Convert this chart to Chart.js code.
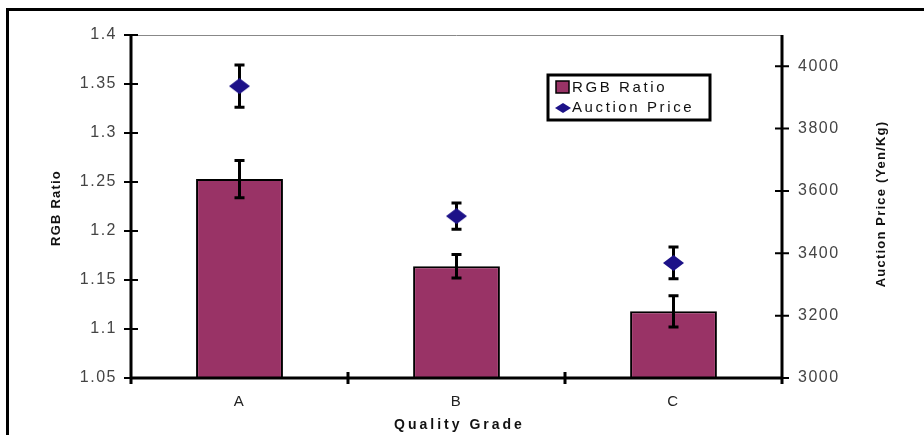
<!DOCTYPE html>
<html>
<head>
<meta charset="utf-8">
<script src="https://cdn.jsdelivr.net/npm/chart.js@4/dist/chart.umd.min.js"></script>
<style>
  html, body { margin: 0; padding: 0; background: #fff; overflow: hidden; }
  #frame { position: absolute; left: 6px; top: 8px; width: 1000px; height: 1000px; border: 3px solid #000; }
  #wrap { position: absolute; left: 0; top: 0; width: 924px; height: 435px; }
</style>
</head>
<body>
<div id="frame"></div>
<div id="wrap"><canvas id="chart"></canvas></div>
<script>
// datos
const grades = ['A', 'B', 'C'];
const rgbRatio = [1.253, 1.164, 1.118];
const rgbErr = [0.019, 0.012, 0.016];
const auctionPrice = [3936, 3519, 3369];
const priceErr = [68, 42, 51];
const ratioTicks = { min: 1.05, max: 1.4, step: 0.05 };
const priceTicks = { min: 3000, max: 4100, step: 200 };

const AREA = { left: 131, right: 782, top: 35, bottom: 378 };
const FONT = '"Liberation Sans", Arial, sans-serif';
const DIAMOND = '#1d1288';

// rombo algo aplastado, como en el original
function makeDiamond(w, h) {
  const c = document.createElement('canvas');
  c.width = w; c.height = h;
  const g = c.getContext('2d');
  g.fillStyle = DIAMOND;
  g.beginPath();
  g.moveTo(0, h / 2); g.lineTo(w / 2, 0); g.lineTo(w, h / 2); g.lineTo(w / 2, h);
  g.closePath(); g.fill();
  return c;
}

// barras de error (dibujadas con las escalas)
const errorBars = {
  id: 'errorBars',
  draw(chart, idx, errs, scaleId) {
    const ctx = chart.ctx;
    const meta = chart.getDatasetMeta(idx);
    const ys = chart.scales[scaleId];
    const vals = chart.data.datasets[idx].data;
    ctx.save();
    ctx.strokeStyle = '#000';
    ctx.lineWidth = 3;
    meta.data.forEach((el, i) => {
      const x = el.x;
      const yTop = ys.getPixelForValue(vals[i] + errs[i]);
      const yBot = ys.getPixelForValue(vals[i] - errs[i]);
      ctx.beginPath();
      ctx.moveTo(x, yTop); ctx.lineTo(x, yBot);
      ctx.moveTo(x - 5, yTop); ctx.lineTo(x + 5, yTop);
      ctx.moveTo(x - 5, yBot); ctx.lineTo(x + 5, yBot);
      ctx.stroke();
    });
    ctx.restore();
  },
  beforeDatasetDraw(chart, args) {
    if (args.index === 1) this.draw(chart, 1, priceErr, 'y1');
  },
  afterDatasetDraw(chart, args) {
    if (args.index === 0) this.draw(chart, 0, rgbErr, 'y');
  }
};

// ejes, marcas, titulos y leyenda
const decor = {
  id: 'decor',
  beforeDraw(chart) {
    chart.ctx.letterSpacing = '1.5px';
  },
  afterDraw(chart) {
    const ctx = chart.ctx;
    const { left, right, top, bottom } = chart.chartArea;
    const y = chart.scales.y, y1 = chart.scales.y1, x = chart.scales.x;
    ctx.save();
    // borde superior gris
    ctx.strokeStyle = '#888';
    ctx.lineWidth = 1;
    ctx.beginPath(); ctx.moveTo(left, top + 0.5); ctx.lineTo(right, top + 0.5); ctx.stroke();
    // ejes
    ctx.strokeStyle = '#000';
    ctx.lineWidth = 3;
    ctx.beginPath();
    ctx.moveTo(left, top); ctx.lineTo(left, bottom + 6);
    ctx.moveTo(right, top); ctx.lineTo(right, bottom + 6);
    ctx.moveTo(left, bottom); ctx.lineTo(right, bottom);
    ctx.stroke();
    ctx.lineWidth = 2;
    ctx.beginPath();
    y.ticks.forEach(t => {
      const p = y.getPixelForValue(t.value);
      ctx.moveTo(left - 7, p); ctx.lineTo(left + 7, p);
    });
    y1.ticks.forEach(t => {
      const p = y1.getPixelForValue(t.value);
      ctx.moveTo(right - 7, p); ctx.lineTo(right + 7, p);
    });
    ctx.stroke();
    ctx.lineWidth = 3;
    ctx.beginPath();
    for (let i = 1; i < grades.length; i++) {
      const p = (x.getPixelForValue(i - 1) + x.getPixelForValue(i)) / 2;
      ctx.moveTo(p, bottom - 6); ctx.lineTo(p, bottom + 6);
    }
    ctx.stroke();

    // titulos de ejes
    ctx.fillStyle = '#111';
    ctx.textAlign = 'center';
    ctx.textBaseline = 'middle';
    ctx.font = 'bold 13px ' + FONT;
    ctx.letterSpacing = '1.2px';
    ctx.save(); ctx.translate(56, 208); ctx.rotate(-Math.PI / 2); ctx.fillText('RGB Ratio', 0, 0); ctx.restore();
    ctx.save(); ctx.translate(881, 204); ctx.rotate(-Math.PI / 2); ctx.fillText('Auction Price (Yen/Kg)', 0, 0); ctx.restore();
    ctx.font = 'bold 14px ' + FONT;
    ctx.letterSpacing = '3px';
    ctx.fillText('Quality Grade', (left + right) / 2 + 3, 425);

    // leyenda
    const lx = 548, ly = 75, lw = 162, lh = 45;
    ctx.fillStyle = '#fff';
    ctx.fillRect(lx, ly, lw, lh);
    ctx.strokeStyle = '#000';
    ctx.lineWidth = 3;
    ctx.strokeRect(lx, ly, lw, lh);
    const ds = chart.data.datasets;
    ctx.fillStyle = ds[0].backgroundColor;
    ctx.fillRect(556, 81, 13, 12);
    ctx.lineWidth = 1.5;
    ctx.strokeRect(556, 81, 13, 12);
    ctx.fillStyle = DIAMOND;
    ctx.beginPath();
    ctx.moveTo(555, 108); ctx.lineTo(563, 103); ctx.lineTo(571, 108); ctx.lineTo(563, 113);
    ctx.closePath(); ctx.fill();
    ctx.fillStyle = '#111';
    ctx.textAlign = 'left';
    ctx.font = '15px ' + FONT;
    ctx.letterSpacing = '2.6px';
    ctx.fillText(ds[0].label, 572, 88);
    ctx.fillText(ds[1].label, 572, 108);
    ctx.restore();
  }
};

const ctx = document.getElementById('chart').getContext('2d');
const myChart = new Chart(ctx, {
  type: 'bar',
  data: {
    labels: grades,
    datasets: [{
      label: 'RGB Ratio',
      data: rgbRatio,
      yAxisID: 'y',
      backgroundColor: '#993366',
      borderColor: '#000',
      borderWidth: 2,
      barPercentage: 0.4,
      categoryPercentage: 1,
      order: 2
    }, {
      type: 'line',
      label: 'Auction Price',
      data: auctionPrice,
      yAxisID: 'y1',
      showLine: false,
      pointStyle: makeDiamond(21, 16),
      backgroundColor: DIAMOND,
      borderColor: DIAMOND,
      order: 1
    }]
  },
  options: {
    responsive: true,
    maintainAspectRatio: false,
    animation: false,
    layout: { padding: { left: 0, right: 0, top: AREA.top, bottom: 0 } },
    plugins: { legend: { display: false }, tooltip: { enabled: false } },
    scales: {
      x: {
        grid: { display: false, drawTicks: false },
        border: { display: false },
        ticks: { color: '#222', padding: 15, font: { size: 15, family: FONT } },
        afterFit(s) { s.height = 435 - AREA.bottom; }
      },
      y: {
        position: 'left',
        min: ratioTicks.min,
        max: ratioTicks.max,
        grid: { display: false, drawTicks: false },
        border: { display: false },
        ticks: {
          stepSize: ratioTicks.step,
          color: '#444',
          padding: 14,
          font: { size: 16, family: FONT },
          callback: v => String(Math.round(v * 100) / 100)
        },
        afterFit(s) { s.width = AREA.left; }
      },
      y1: {
        position: 'right',
        min: priceTicks.min,
        max: priceTicks.max,
        grid: { display: false, drawTicks: false },
        border: { display: false },
        ticks: {
          stepSize: priceTicks.step,
          includeBounds: false,
          color: '#444',
          padding: 16,
          font: { size: 16, family: FONT },
          callback: v => String(v)
        },
        afterFit(s) { s.width = 924 - AREA.right; }
      }
    }
  },
  plugins: [errorBars, decor]
});
</script>
</body>
</html>
